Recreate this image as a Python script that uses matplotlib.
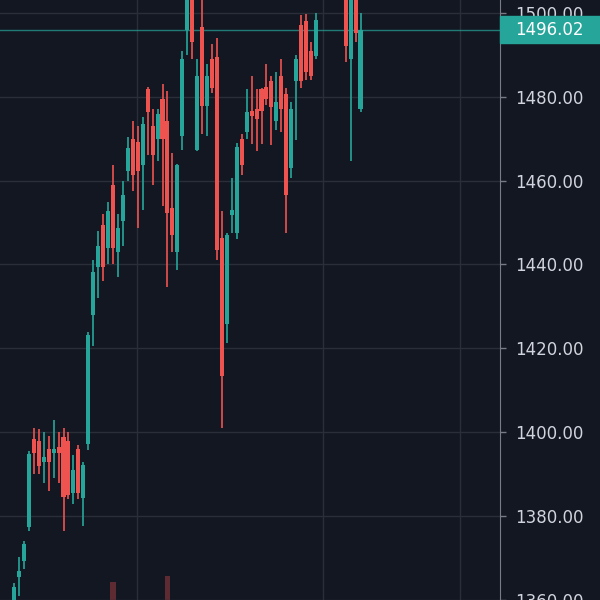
import numpy as np
import matplotlib
matplotlib.use("Agg")
import matplotlib.pyplot as plt
from matplotlib.patches import Rectangle
from matplotlib.transforms import blended_transform_factory

# OHLC (price units), left to right
opens = [1358, 1365.5, 1369.3, 1377.3, 1398.5, 1398, 1393, 1396, 1395, 1396.5,
         1398.8, 1398, 1385.6, 1396, 1384.4, 1397.3, 1428, 1439.4, 1449.5, 1444,
         1459, 1443, 1450.4, 1462.2, 1470, 1469.3, 1463.7, 1481.8, 1473, 1470,
         1479.5, 1474.3, 1453.5, 1443, 1470.7, 1496, 1506, 1467.2, 1496.7, 1477.8,
         1489, 1489.4, 1446.4, 1425.7, 1451.9, 1447.6, 1470, 1471.7, 1476.6, 1477,
         1481.8, 1482.3, 1483.7, 1474.3, 1485, 1480.6, 1463, 1483.7, 1497.2, 1498,
         1490.8, 1489.6,
         1506, 1489, 1507, 1477.1]
highs = [1364, 1370.2, 1374, 1395.5, 1401, 1400.8, 1400, 1399, 1403, 1400,
         1401, 1400, 1394.5, 1397, 1393, 1423.8, 1441, 1448, 1452, 1455,
         1463.7, 1452, 1460, 1470.5, 1474.3, 1473, 1475.2, 1482.3, 1477, 1477,
         1483, 1481.4, 1466.5, 1464, 1490.8, 1508, 1510, 1489, 1503, 1487.7,
         1492.5, 1494, 1452.8, 1447.5, 1460.6, 1469, 1471, 1481.8, 1485, 1481.8,
         1482, 1487.7, 1485, 1486, 1489, 1482, 1478.8, 1490, 1499.5, 1499.7,
         1493, 1500,
         1510, 1510, 1510, 1500]
lows = [1355, 1361, 1367.5, 1376.5, 1390, 1390, 1388, 1386, 1389, 1388,
        1376.4, 1384, 1383, 1384, 1377.6, 1395.7, 1420.5, 1432, 1436, 1440,
        1440, 1437, 1444.5, 1460, 1457.5, 1448.8, 1453, 1466, 1459, 1464.6,
        1454, 1434.6, 1443, 1438.6, 1467.2, 1490, 1488.9, 1467, 1471.2, 1470.7,
        1481, 1441, 1400.9, 1421.2, 1447.6, 1446, 1461.3, 1470, 1468.8, 1467,
        1468.8, 1478, 1468.4, 1472, 1471.7, 1447.6, 1460.6, 1469.6, 1482, 1484,
        1484, 1489,
        1488.2, 1464.6, 1493, 1476.4]
closes = [1363, 1367, 1373.3, 1394.7, 1395, 1392, 1394, 1393, 1396, 1395,
          1384.6, 1385, 1391, 1385.6, 1392.2, 1423.3, 1438.2, 1444.5, 1439.4, 1452.8,
          1444, 1448.8, 1456.6, 1467.7, 1461.3, 1462.2, 1473.6, 1476.4, 1466, 1476,
          1470, 1452.3, 1447, 1463.7, 1488.9, 1505, 1493, 1485, 1477.8, 1485,
          1482, 1443.4, 1413.4, 1447.1, 1453, 1468.1, 1463.7, 1476.4, 1475.5, 1474.8,
          1476.6, 1479.5, 1477.6, 1478.8, 1477, 1456.6, 1477.1, 1488.9, 1483.7, 1486,
          1485, 1498.3,
          1492, 1506, 1495.3, 1496.02]

# bars 62-66 sit above the visible price range
bar_idx = list(range(62)) + [67, 68, 69, 70]

# volume bars that reach into the view
vol_idx = [20, 31]
vol_val = [43, 44]

last_price = 1496.02
grid_times = [24.85, 62.4, 90.1]

bg = '#131722'
up = '#26a69a'
down = '#ef5350'

fig = plt.figure(figsize=(6, 6), dpi=100, facecolor=bg)
ax = fig.add_axes([0, 0, 500 / 600, 1])
ax.set_facecolor(bg)

o = np.array(opens); h = np.array(highs); l = np.array(lows); c = np.array(closes)
x = np.array(bar_idx)
cols = np.where(c >= o, up, down)

# volume, behind the candles
axv = ax.twinx()
axv.set_zorder(0)
ax.set_zorder(1)
ax.patch.set_visible(False)
axv.set_facecolor(bg)
axv.bar(vol_idx, vol_val, width=1.1, color=down, alpha=0.35)
axv.set_ylim(40, 140)
axv.axis('off')

ax.vlines(x, l, h, colors=cols, lw=1.2, zorder=3)
ax.bar(x, np.maximum(np.abs(c - o), 0.3), bottom=np.minimum(o, c), width=0.82,
       color=cols, zorder=4)

ax.axhline(last_price, color=up, lw=1, alpha=0.7, zorder=2)
for g in grid_times:
    ax.axvline(g, color='#2a2e39', lw=1, zorder=1)

ax.set_xlim(-14 / 4.95, 486 / 4.95)
ax.set_ylim(1361.47, 1503.07)
ax.set_yticks(np.arange(1360, 1501, 20))
ax.yaxis.set_major_formatter(matplotlib.ticker.FormatStrFormatter('%.2f'))
ax.grid(axis='y', color='#2a2e39', lw=1, zorder=1)
ax.tick_params(axis='y', left=False, labelleft=False, right=True, labelright=True,
               length=4, width=1, color='#787b86', labelcolor='#d1d4dc',
               labelsize=12, pad=7)
ax.tick_params(axis='x', bottom=False, labelbottom=False)
for s in ['top', 'left', 'bottom']:
    ax.spines[s].set_visible(False)
ax.spines['right'].set_color('#787b86')

# last price tag on the scale
tr = blended_transform_factory(fig.transFigure, ax.transData)
fig.patches.append(Rectangle((500 / 600, last_price - 3.3), 100 / 600, 6.6,
                             transform=tr, color=up, zorder=5))
fig.text(515 / 600, last_price, '%.2f' % last_price, transform=tr,
         color='white', fontsize=12, va='center', ha='left', zorder=6)

fig.savefig('out.png', dpi=100, facecolor=bg)
